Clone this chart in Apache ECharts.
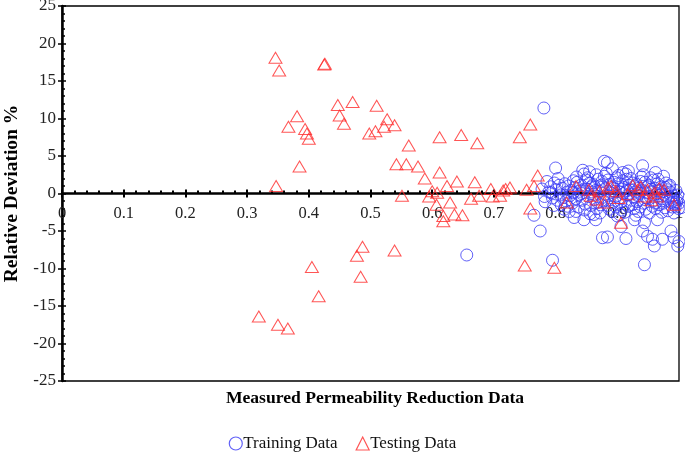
<!DOCTYPE html>
<html>
<head>
<meta charset="utf-8">
<script src="https://cdn.jsdelivr.net/npm/echarts@6/dist/echarts.min.js"></script>
<style>
  html, body { margin: 0; padding: 0; background: #fff; }
  #chart { width: 685px; height: 452px; }
</style>
</head>
<body>
<div id="chart"></div>
<script>
var yTicks = [-25, 25, 5];
var xTicks = [0, 1, 0.1];

// [measured, relative deviation %]
var trainingData = [
  [0.778, 0.6], [0.782, -0.4], [0.786, 1.6], [0.789, 0.2], [0.783, -1.1],
  [0.792, 0.9], [0.795, -0.6], [0.798, 1.4], [0.797, -1.6], [0.793, 0.1],
  [0.801, 0.5], [0.803, -0.9], [0.806, 1.1], [0.808, -0.2], [0.804, 2.0], [0.809, -1.5],
  [0.811, 0.7], [0.813, -0.5], [0.815, 1.3], [0.817, -1.0], [0.819, 0.2], [0.814, -2.1],
  [0.821, 1.0], [0.823, -0.3], [0.825, 0.4], [0.827, -1.3], [0.829, 1.7], [0.822, -2.4], [0.828, 0.1],
  [0.831, 0.8], [0.833, -0.7], [0.835, 1.5], [0.837, -1.8], [0.839, 0.3], [0.834, 2.2], [0.838, -0.2],
  [0.841, 1.1], [0.843, -0.9], [0.845, 0.5], [0.847, -2.2], [0.849, 1.8], [0.842, 0.0], [0.846, 2.6], [0.848, -1.4],
  [0.851, 0.6], [0.853, -0.4], [0.855, 1.4], [0.857, -1.6], [0.859, 0.2], [0.852, 2.1], [0.856, -2.7], [0.858, 0.9],
  [0.861, 1.2], [0.863, -0.8], [0.865, 0.4], [0.867, -2.0], [0.869, 1.9], [0.862, -0.1], [0.866, 2.5], [0.868, -1.2], [0.864, 0.8],
  [0.871, 0.3], [0.873, -1.5], [0.875, 1.6], [0.877, -0.5], [0.879, 2.3], [0.872, -2.6], [0.876, 0.9], [0.878, -1.0], [0.874, 1.1],
  [0.881, 0.6], [0.883, -0.9], [0.885, 1.8], [0.887, -2.1], [0.889, 0.1], [0.882, 2.7], [0.886, -0.3], [0.888, 1.2], [0.884, -1.6],
  [0.891, 0.9], [0.893, -1.2], [0.895, 1.5], [0.897, -0.4], [0.899, 2.1], [0.892, -2.4], [0.896, 0.3], [0.898, -1.8], [0.894, 0.7],
  [0.901, 1.3], [0.903, -0.6], [0.905, 0.2], [0.907, -2.2], [0.909, 1.7], [0.902, 2.4], [0.906, -1.1], [0.908, 0.6], [0.904, -2.8], [0.910, 0.0],
  [0.911, 0.8], [0.913, -1.4], [0.915, 1.9], [0.917, -0.2], [0.919, 1.1], [0.912, -2.5], [0.916, 0.4], [0.918, -1.7], [0.914, 2.6],
  [0.921, 0.5], [0.923, -0.9], [0.925, 1.4], [0.927, -2.0], [0.929, 0.2], [0.922, 2.0], [0.926, -0.5], [0.928, 1.0], [0.924, -1.5], [0.930, -2.9],
  [0.931, 1.2], [0.933, -0.3], [0.935, 0.7], [0.937, -1.8], [0.939, 2.2], [0.932, -1.1], [0.936, 0.0], [0.938, 1.6], [0.934, -2.4],
  [0.941, 0.4], [0.943, -1.3], [0.945, 1.5], [0.947, -0.6], [0.949, 0.9], [0.942, 2.5], [0.946, -2.1], [0.948, 0.1], [0.944, -0.8],
  [0.951, 1.1], [0.953, -0.4], [0.955, 0.6], [0.957, -1.7], [0.959, 1.8], [0.952, -2.6], [0.956, 0.2], [0.958, -1.0], [0.954, 2.1],
  [0.961, 0.7], [0.963, -1.2], [0.965, 1.3], [0.967, -0.3], [0.969, 0.4], [0.962, -2.0], [0.966, 1.9], [0.968, -1.5], [0.964, 0.0],
  [0.971, 0.9], [0.973, -0.7], [0.975, 0.3], [0.977, -1.9], [0.979, 1.4], [0.972, -2.5], [0.976, -0.2], [0.978, 0.8], [0.974, -1.3],
  [0.981, 0.5], [0.983, -1.0], [0.985, 1.1], [0.987, -0.5], [0.989, -1.8], [0.982, -2.3], [0.986, 0.2], [0.988, -1.2], [0.984, 0.9],
  [0.991, -0.3], [0.993, -1.4], [0.995, 0.4], [0.997, -0.8], [0.999, -2.0], [0.992, -2.6], [0.996, -1.1], [0.998, -0.2], [0.994, -1.7],
  [1.0, -1.3], [1.002, -0.6], [1.003, -1.9],
  // scattered ones
  [0.781, 11.4], [0.800, 3.4], [0.844, 3.1], [0.879, 4.3], [0.884, 4.1], [0.892, 3.3], [0.941, 3.7], [0.909, 2.8],
  [0.855, 2.9], [0.918, 3.0], [0.962, 2.8], [0.975, 2.3],
  [0.765, -2.9], [0.775, -5.0], [0.795, -8.9], [0.656, -8.2],
  [0.819, -1.7], [0.833, -2.4], [0.846, -3.5], [0.862, -2.8], [0.865, -3.5], [0.830, -3.2],
  [0.876, -5.9], [0.884, -5.8], [0.914, -6.0], [0.906, -4.4], [0.900, -3.0], [0.928, -3.5], [0.944, -3.9], [0.965, -3.5],
  [0.941, -5.0], [0.949, -5.7], [0.957, -6.1], [0.960, -7.0], [0.973, -6.1], [0.987, -5.0], [0.992, -5.9], [1.0, -6.4],
  [0.998, -7.0], [0.944, -9.5]
];

var testingData = [
  [0.346, 18.1], [0.352, 16.4], [0.425, 17.2], [0.426, 17.3], [0.447, 11.8], [0.471, 12.2], [0.510, 11.7],
  [0.450, 10.4], [0.457, 9.3], [0.381, 10.3], [0.367, 8.9], [0.394, 8.6], [0.397, 8.0], [0.400, 7.3],
  [0.498, 8.0], [0.508, 8.3], [0.527, 9.9], [0.522, 8.9], [0.539, 9.1], [0.562, 6.4], [0.612, 7.5],
  [0.647, 7.8], [0.673, 6.7], [0.742, 7.5], [0.759, 9.2], [0.385, 3.6], [0.542, 3.9], [0.558, 3.9],
  [0.577, 3.6], [0.588, 2.0], [0.612, 2.8], [0.640, 1.6], [0.669, 1.5], [0.347, 1.0], [0.551, -0.3],
  [0.600, 0.3], [0.608, 0.1], [0.595, -0.4], [0.624, 1.0], [0.629, -1.2], [0.607, -1.5], [0.636, -2.8],
  [0.649, -2.9], [0.618, -3.0], [0.618, -3.7], [0.663, -0.7], [0.676, -0.3], [0.695, 0.6], [0.698, -0.4],
  [0.710, -0.3], [0.715, 0.4], [0.726, 0.8], [0.753, 0.5], [0.771, 2.4], [0.765, 1.0], [0.759, -2.0],
  [0.487, -7.1], [0.478, -8.3], [0.539, -7.6], [0.484, -11.1], [0.405, -9.8], [0.416, -13.7],
  [0.319, -16.4], [0.350, -17.5], [0.366, -18.0], [0.750, -9.6], [0.798, -9.9],
  [0.818, -1.2], [0.833, 1.0], [0.854, 0.5], [0.857, -0.3], [0.871, 0.3], [0.879, -1.2], [0.890, 1.0],
  [0.898, 0.3], [0.906, -3.9], [0.917, -0.1], [0.933, 0.5], [0.944, -0.4], [0.949, 0.5], [0.960, 0.1],
  [0.965, -0.4], [0.976, 0.5], [0.992, -1.5], [0.719, 0.6], [0.866, -0.8], [0.885, 0.8], [0.902, -0.6],
  [0.925, 1.1], [0.955, -0.9], [0.938, 0.9], [0.968, 0.7]
];

var blue = '#3a3af5';
var red = '#ff2a2a';
var font = '"Liberation Serif", "Times New Roman", serif';

var chart = echarts.init(document.getElementById('chart'));

// plot box 62..679 x 6..381, zero line sits half way down
var zeroOffset = -187.5;

var option = {
  animation: false,
  textStyle: { fontFamily: font },
  title: {
    text: 'Measured Permeability Reduction Data',
    left: 370,
    top: 384,
    textAlign: 'center',
    textStyle: { fontFamily: font, fontSize: 17.6, fontWeight: 'bold', color: '#000' }
  },
  grid: {
    left: 62,
    right: 6,
    top: 6,
    bottom: 71,
    outerBoundsMode: 'none',
    containLabel: false,
    show: true,
    borderColor: '#000',
    borderWidth: 1.3
  },
  legend: {
    top: 430,
    left: 'center',
    itemWidth: 13,
    itemHeight: 13,
    itemGap: 18,
    textStyle: { fontFamily: font, fontSize: 17, color: '#111', padding: [0, 0, 0, -4] },
    data: [
      { name: 'Training Data', icon: 'circle',
        itemStyle: { color: 'transparent', borderColor: blue, borderWidth: 1.2 } },
      { name: 'Testing Data', icon: 'triangle',
        itemStyle: { color: 'transparent', borderColor: red, borderWidth: 1.2 } }
    ]
  },
  xAxis: [
    {
      type: 'value',
      min: xTicks[0],
      max: xTicks[1],
      interval: xTicks[2],
      position: 'bottom',
      offset: zeroOffset,
      axisLine: { onZero: false, lineStyle: { color: '#000', width: 2.5 } },
      axisTick: { show: true, length: 4, lineStyle: { color: '#000', width: 2 } },
      minorTick: { show: false },
      splitLine: { show: false },
      axisLabel: {
        fontFamily: font, fontSize: 16.5, color: '#222', margin: 12,
        formatter: function (v) { return String(Math.round(v * 10) / 10); }
      }
    },
    {
      type: 'value',
      min: xTicks[0],
      max: xTicks[1],
      interval: xTicks[2],
      position: 'bottom',
      offset: zeroOffset,
      axisLine: { show: false, onZero: false },
      axisTick: { show: true, inside: true, length: 4, lineStyle: { color: '#000', width: 2 } },
      minorTick: { show: true, splitNumber: 5, length: 3, lineStyle: { color: '#000', width: 2 } },
      splitLine: { show: false },
      axisLabel: { show: false }
    }
  ],
  yAxis: [
    {
      type: 'value',
      min: yTicks[0],
      max: yTicks[1],
      interval: yTicks[2],
      position: 'left',
      name: 'Relative Deviation %',
      nameLocation: 'middle',
      nameGap: 39,
      nameTextStyle: { fontFamily: font, fontSize: 19.5, fontWeight: 'bold', color: '#000' },
      axisLine: { onZero: false, lineStyle: { color: '#000', width: 2.5 } },
      axisTick: { show: true, length: 4, lineStyle: { color: '#000', width: 1.5 } },
      minorTick: { show: false },
      splitLine: { show: false },
      axisLabel: { fontFamily: font, fontSize: 17, color: '#222', margin: 6 }
    },
    {
      type: 'value',
      min: yTicks[0],
      max: yTicks[1],
      interval: yTicks[2],
      position: 'left',
      axisLine: { show: false, onZero: false },
      axisTick: { show: true, inside: true, length: 4, lineStyle: { color: '#000', width: 1.5 } },
      minorTick: { show: true, splitNumber: 5, length: 3, lineStyle: { color: '#000', width: 1.5 } },
      splitLine: { show: false },
      axisLabel: { show: false }
    }
  ],
  series: [
    {
      name: 'Training Data',
      type: 'scatter',
      xAxisIndex: 0,
      yAxisIndex: 0,
      symbol: 'circle',
      symbolSize: 12,
      clip: false,
      itemStyle: { color: 'transparent', borderColor: blue, borderWidth: 1 },
      data: trainingData
    },
    {
      name: 'Testing Data',
      type: 'scatter',
      xAxisIndex: 0,
      yAxisIndex: 0,
      symbol: 'triangle',
      symbolSize: [13, 11],
      clip: false,
      itemStyle: { color: 'transparent', borderColor: red, borderWidth: 1 },
      data: testingData
    }
  ]
};

option && chart.setOption(option);
</script>
</body>
</html>
